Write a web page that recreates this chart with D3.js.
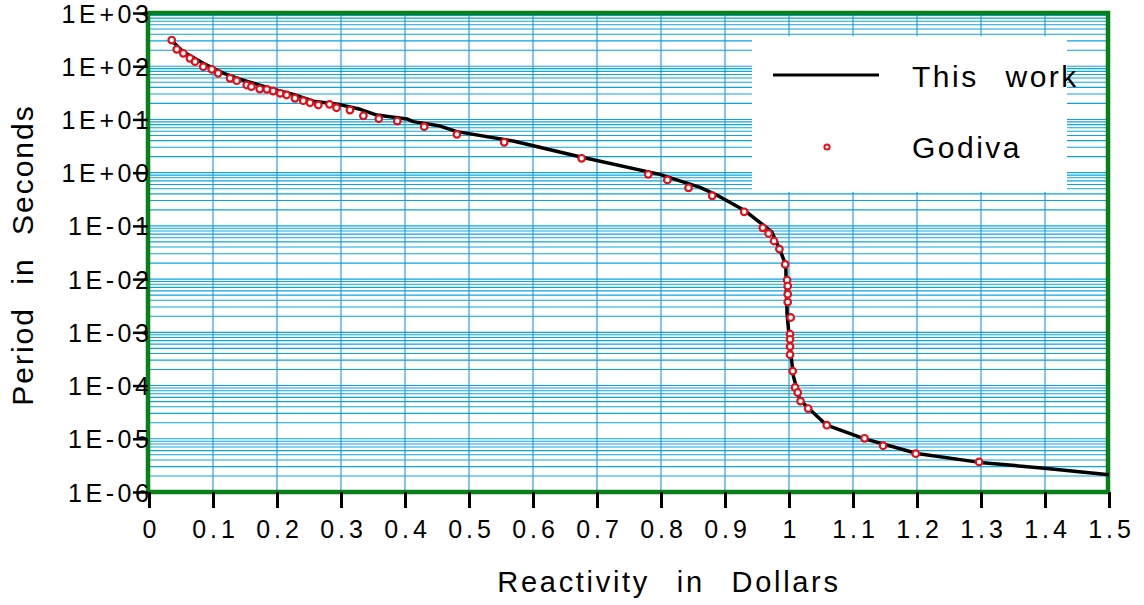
<!DOCTYPE html>
<html>
<head>
<meta charset="utf-8">
<script src="https://cdn.jsdelivr.net/npm/d3@7"></script>
<style>
  html, body { margin: 0; padding: 0; background: #fff; }
  svg { display: block; font-family: "Liberation Sans", Arial, sans-serif; }
</style>
</head>
<body>
<svg id="chart" width="1144" height="605"></svg>
<script>
// ---- data ----
const xTicks = [0, 0.1, 0.2, 0.3, 0.4, 0.5, 0.6, 0.7, 0.8, 0.9, 1, 1.1, 1.2, 1.3, 1.4, 1.5];
const xTickLabels = ["0","0.1","0.2","0.3","0.4","0.5","0.6","0.7","0.8","0.9","1","1.1","1.2","1.3","1.4","1.5"];
const yTicks = [1e3, 1e2, 1e1, 1e0, 1e-1, 1e-2, 1e-3, 1e-4, 1e-5, 1e-6];
const yTickLabels = ["1E+03","1E+02","1E+01","1E+00","1E-01","1E-02","1E-03","1E-04","1E-05","1E-06"];
const seriesNames = ["This work", "Godiva"];

// "This work" curve: reactivity ($), period (s)
const workX = [0.0355, 0.0536, 0.0848, 0.116, 0.142, 0.168, 0.194, 0.2255, 0.257, 0.298, 0.330, 0.356, 0.403, 0.413, 0.455, 0.481, 0.569, 0.673, 0.798, 0.861, 0.887, 0.932, 0.973, 0.986, 0.995, 0.9955, 0.997, 1.0016, 1.007, 1.017, 1.033, 1.059, 1.116, 1.2, 1.298, 1.403, 1.5];
const workY = [300, 187, 114, 74, 57, 46, 37, 29.6, 22, 19, 15.5, 12.1, 10.2, 9.1, 7.5, 5.9, 3.93, 1.99, 0.93, 0.53, 0.38, 0.19, 0.0776, 0.035, 0.0183, 0.0096, 0.00226, 5.4e-4, 1.47e-4, 5.4e-5, 3.5e-5, 1.8e-5, 1.02e-5, 5.3e-6, 3.6e-6, 2.77e-6, 2.1e-6];

// "Godiva" experimental points
const godivaX = [0.0355, 0.0433, 0.0536, 0.064, 0.0719, 0.0848, 0.098, 0.108, 0.1266, 0.137, 0.1527, 0.160, 0.173, 0.184, 0.194, 0.205, 0.215, 0.228, 0.241, 0.2516, 0.2645, 0.282, 0.293, 0.314, 0.335, 0.359, 0.388, 0.430, 0.481, 0.555, 0.676, 0.780, 0.810, 0.843, 0.880, 0.930, 0.959, 0.968, 0.9766, 0.985, 0.994, 0.997, 0.998, 0.998, 0.998, 1.0027, 1.0016, 1.0016, 1.0016, 1.0016, 1.0058, 1.0094, 1.0136, 1.018, 1.030, 1.059, 1.118, 1.147, 1.198, 1.297];
const godivaY = [310, 208, 175, 141, 122, 98, 87.5, 73.6, 59.3, 53.5, 44.4, 41.2, 37.3, 36.8, 34.2, 31, 28.8, 25, 22.5, 20.6, 18.7, 19.2, 16.6, 15.0, 11.7, 10.3, 9.33, 7.3, 5.25, 3.72, 1.86, 0.93, 0.73, 0.52, 0.368, 0.184, 0.092, 0.072, 0.052, 0.0366, 0.0189, 0.0096, 0.0074, 0.0052, 0.0037, 0.0019, 9.2e-4, 7.4e-4, 5.4e-4, 3.8e-4, 1.87e-4, 9.2e-5, 7.4e-5, 5.1e-5, 3.7e-5, 1.8e-5, 1.02e-5, 7.4e-6, 5.25e-6, 3.68e-6];

// ---- drawing ----
const svg = d3.select("#chart");
const x = d3.scaleLinear().domain([0, 1.5]).range([149, 1109]);
const y = d3.scaleLog().domain([1e-6, 1e3]).range([492, 13]);

const gridH = "#0aa5e0", gridV = "#1898d4", frameColor = "#08801a";

// horizontal log grid (1..9 per decade)
const hLines = [];
for (let e = -6; e < 3; e++) for (let k = 1; k < 10; k++) hLines.push(k * Math.pow(10, e));
hLines.push(1e3);
svg.append("g").selectAll("line").data(hLines).join("line")
  .attr("x1", x(0)).attr("x2", x(1.5))
  .attr("y1", d => y(d)).attr("y2", d => y(d))
  .attr("stroke", gridH).attr("stroke-width", 1.1);

// vertical grid
svg.append("g").selectAll("line").data(xTicks).join("line")
  .attr("x1", d => x(d)).attr("x2", d => x(d))
  .attr("y1", y(1e3)).attr("y2", y(1e-6))
  .attr("stroke", gridV).attr("stroke-width", 1.1);

// legend box (white)
svg.append("rect").attr("x", 752).attr("y", 36).attr("width", 315).attr("height", 156).attr("fill", "#fff");

// frame
svg.append("rect")
  .attr("x", x(0) - 1).attr("y", y(1e3)).attr("width", x(1.5) - x(0)).attr("height", y(1e-6) - y(1e3))
  .attr("fill", "none").attr("stroke", frameColor).attr("stroke-width", 4.5);

// x axis ticks + labels
const xAxis = d3.axisBottom(x).tickValues(xTicks).tickSize(16).tickPadding(10)
  .tickFormat((d, i) => xTickLabels[i]);
const gx = svg.append("g").attr("transform", `translate(0,${y(1e-6)})`).call(xAxis);
gx.select(".domain").remove();
gx.selectAll(".tick line").attr("stroke", "#000").attr("stroke-width", 3);
gx.selectAll(".tick text").attr("font-size", 25).attr("fill", "#000")
  .attr("letter-spacing", 4).attr("dx", 2).attr("dy", "0.78em")
  .style("font-family", "'Liberation Sans', Arial, sans-serif");

// y axis ticks + labels (labels overlap the tick marks, as in the original)
const yLS = 3.6;
const yAxis = d3.axisLeft(y).tickValues(yTicks).tickSize(15).tickPadding(-15 - yLS - 1)
  .tickFormat((d, i) => yTickLabels[i]);
const gy = svg.append("g").attr("transform", `translate(${x(0) - 1},0)`).call(yAxis);
gy.select(".domain").remove();
gy.selectAll(".tick line").attr("stroke", "#000").attr("stroke-width", 2.5);
gy.selectAll(".tick text").attr("font-size", 25).attr("fill", "#000")
  .attr("letter-spacing", yLS).attr("dy", "0.36em")
  .style("font-family", "'Liberation Sans', Arial, sans-serif");

// curve
const workData = workX.map((d, i) => [d, workY[i]]);
svg.append("path").datum(workData)
  .attr("d", d3.line().x(d => x(d[0])).y(d => y(d[1])))
  .attr("fill", "none").attr("stroke", "#000").attr("stroke-width", 3.5)
  .attr("stroke-linejoin", "round");

// Godiva points
const godivaData = godivaX.map((d, i) => [d, godivaY[i]]);
svg.append("g").selectAll("circle").data(godivaData).join("circle")
  .attr("cx", d => x(d[0])).attr("cy", d => y(d[1])).attr("r", 3.3)
  .attr("fill", "#fff").attr("stroke", "#e3101a").attr("stroke-width", 2.2);

// legend
svg.append("line").attr("x1", 773).attr("x2", 879).attr("y1", 75).attr("y2", 75)
  .attr("stroke", "#000").attr("stroke-width", 3);
svg.append("circle").attr("cx", 827).attr("cy", 147).attr("r", 2.6)
  .attr("fill", "#fff").attr("stroke", "#e3101a").attr("stroke-width", 2);
svg.append("text").attr("x", 912).attr("y", 87).attr("font-size", 30)
  .attr("letter-spacing", 2.5).attr("word-spacing", 16).text(seriesNames[0]);
svg.append("text").attr("x", 912).attr("y", 158).attr("font-size", 30)
  .attr("letter-spacing", 2.5).text(seriesNames[1]);

// axis titles
svg.append("text").attr("x", 669).attr("y", 592).attr("text-anchor", "middle")
  .attr("font-size", 29).attr("letter-spacing", 2.7).attr("word-spacing", 16)
  .text("Reactivity in Dollars");
svg.append("text").attr("transform", "translate(33,255) rotate(-90)").attr("text-anchor", "middle")
  .attr("font-size", 30).attr("letter-spacing", 2).attr("word-spacing", 12)
  .text("Period in Seconds");
</script>
</body>
</html>
